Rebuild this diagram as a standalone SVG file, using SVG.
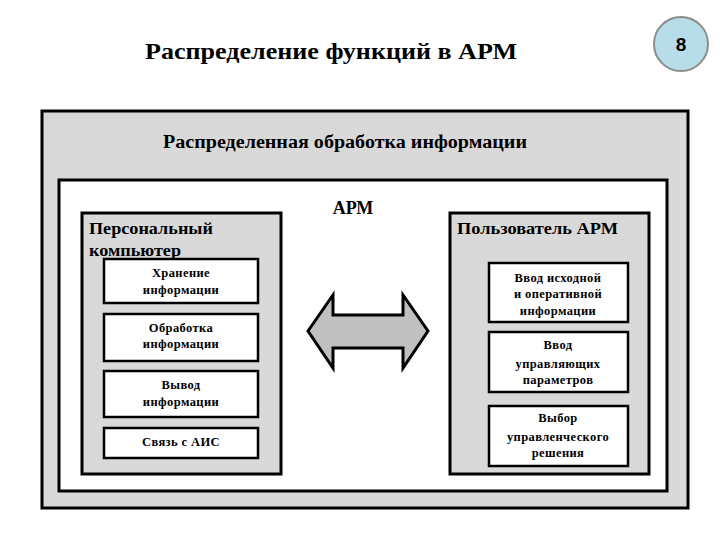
<svg xmlns="http://www.w3.org/2000/svg" width="720" height="540" viewBox="0 0 720 540">
<style>
text{font-family:'Liberation Serif','Times New Roman','DejaVu Serif',serif;font-weight:bold;fill:#000}
.box{stroke:#000;stroke-width:3}
.sub{fill:#fff;stroke:#000;stroke-width:2.5}
.s{font-size:12.5px;text-anchor:middle;letter-spacing:0.4px}
</style>
<rect width="720" height="540" fill="#fff"/>
<g id="badge">
<circle cx="681" cy="44" r="27" fill="#b7dde8" stroke="#8c8c8c" stroke-width="2"/>
<text x="681" y="51" style="font-family:'Liberation Sans',Arial,sans-serif" font-size="19" text-anchor="middle">8</text>
</g>
<text x="331" y="59" font-size="24" text-anchor="middle" textLength="372" lengthAdjust="spacingAndGlyphs">Распределение функций в АРМ</text>
<g id="outer">
<rect class="box" x="42" y="111" width="646" height="397" fill="#d9d9d9"/>
<text x="345" y="148" font-size="18" text-anchor="middle" textLength="364" lengthAdjust="spacingAndGlyphs">Распределенная обработка информации</text>
</g>
<g id="arm">
<rect class="box" x="59" y="180" width="608" height="311" fill="#fff"/>
<text x="353" y="214" font-size="18" text-anchor="middle">АРМ</text>
</g>
<g id="pc">
<rect class="box" x="82" y="213" width="199" height="261" fill="#d9d9d9"/>
<text x="89" y="234" font-size="17" textLength="124" lengthAdjust="spacingAndGlyphs">Персональный</text>
<text x="89" y="256" font-size="17" textLength="92" lengthAdjust="spacingAndGlyphs">компьютер</text>
</g>
<g id="store"><rect class="sub" x="104" y="259" width="154" height="44"/>
<text class="s" x="181" y="277">Хранение</text><text class="s" x="181" y="294">информации</text></g>
<g id="proc"><rect class="sub" x="104" y="314" width="154" height="47"/>
<text class="s" x="181" y="332">Обработка</text><text class="s" x="181" y="348">информации</text></g>
<g id="out"><rect class="sub" x="104" y="371" width="154" height="46"/>
<text class="s" x="181" y="389">Вывод</text><text class="s" x="181" y="406">информации</text></g>
<g id="ais"><rect class="sub" x="104" y="428" width="154" height="30"/>
<text class="s" x="181" y="446">Связь с АИС</text></g>
<g id="user">
<rect class="box" x="450" y="213" width="199" height="261" fill="#d9d9d9"/>
<text x="457" y="234" font-size="17" textLength="161" lengthAdjust="spacingAndGlyphs">Пользователь АРМ</text>
</g>
<g id="input"><rect class="sub" x="489" y="263" width="139" height="59"/>
<text class="s" x="558" y="282">Ввод исходной</text><text class="s" x="558" y="298">и оперативной</text><text class="s" x="558" y="315">информации</text></g>
<g id="params"><rect class="sub" x="489" y="332" width="139" height="60"/>
<text class="s" x="558" y="349">Ввод</text><text class="s" x="558" y="368">управляющих</text><text class="s" x="558" y="384">параметров</text></g>
<g id="decision"><rect class="sub" x="489" y="406" width="139" height="60"/>
<text class="s" x="558" y="422">Выбор</text><text class="s" x="558" y="441">управленческого</text><text class="s" x="558" y="457">решения</text></g>
<g id="connectors">
<path d="M308,331 L333,295 L333,315 L403,315 L403,295 L428,331 L403,368 L403,348 L333,348 L333,368 Z" fill="#c0c0c0" stroke="#000" stroke-width="3" stroke-linejoin="miter"/>
</g>
</svg>
